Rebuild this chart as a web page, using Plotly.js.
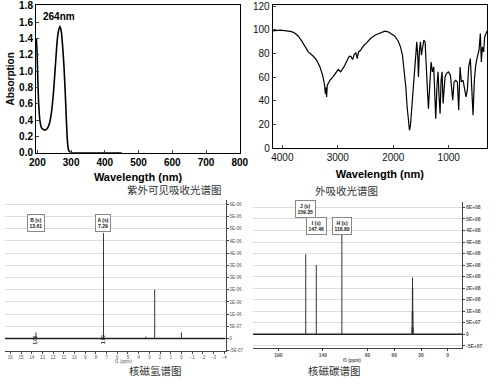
<!DOCTYPE html>
<html><head><meta charset="utf-8">
<script src="https://cdn.plot.ly/plotly-3.0.1.min.js"></script>
<style>html,body{margin:0;padding:0;background:#fff}#c{width:500px;height:390px}</style>
</head><body><div id="c"></div>
<script>
// ---- UV-Vis absorption spectrum ----
const uvWavelength = [197,199,201,204,208,213,218,224,230,236,242,248,254,259,263,267,271,275,279,283,286,289,292,296,300,350,400,450];
const uvAbsorption = [1.40,1.25,0.95,0.60,0.38,0.30,0.285,0.28,0.30,0.36,0.50,0.75,1.10,1.38,1.50,1.55,1.48,1.30,1.05,0.70,0.40,0.15,0.04,0.01,0,0,0,0];
const uvPeakLabel = '264nm';
const uvPeakWavelength = 265;

// ---- IR spectrum ----
const irWavenumber = [4174,4042,3922,3832,3772,3712,3652,3592,3532,3442,3382,3322,3274,3238,3226,3214,3202,3190,3142,3082,3022,2992,2950,2890,2830,2794,2764,2734,2704,2674,2650,2626,2590,2542,2482,2410,2332,2242,2152,2092,2032,1972,1912,1870,1834,1804,1774,1750,1726,1708,1690,1666,1642,1618,1594,1576,1558,1546,1528,1510,1492,1474,1450,1426,1402,1384,1366,1342,1318,1294,1270,1252,1234,1210,1192,1174,1156,1138,1120,1102,1084,1066,1042,1006,970,946,928,904,874,844,820,796,772,742,712,688,664,640,610,586,562,538,514,484,454,430,412,394,370,352,328,310];
const irTransmittance = [99.1,99.7,99.1,98.5,97.1,94.6,90.6,85.6,81.3,77.6,74.3,68.6,61.6,53.1,46,51.1,43.2,53.1,57.3,60.7,64.4,66.4,64.4,68.6,74.3,77.6,77.6,74.8,79.3,80.5,75.7,81.3,82.7,86.1,88.9,92.6,95.4,97.4,98.8,98.3,96.8,94.6,90.6,85.6,78.5,67.2,51.7,34.7,20.6,15,19.2,34.7,54.5,71.4,85.6,89.8,77.1,60.1,82.7,89.8,78.5,85.6,91.2,89.8,71.4,48.8,33.3,60.1,72.8,64.4,68.6,46,24.8,54.5,64.4,43.2,29.1,57.3,64.4,37.6,51.7,60.1,63,64.4,61.6,48.8,40.4,55.9,57.3,55.9,31.9,68.6,55.9,57.3,50.3,43.2,49.1,68.6,75.7,54.5,27.7,57.3,70,77,82.7,96.8,72.8,85.6,81.3,94,98.3,99.1];

// ---- 1H NMR ----
const hShift = [13.61, 7.29, 3.33, 2.50, 0.00];
const hIntensity = [2.5e-7, 4.32e-6, 8e-8, 2.0e-6, 2.5e-7];
const hLabelNames = ['B (s)', 'A (s)'];
const hLabelShifts = [13.61, 7.29];
const hIntegralShifts = [13.61, 7.29];
const hIntegralText = '1.00';
const hTicks = [16,15,14,13,12,11,10,9,8,7,6,5,4,3,2,1,0,-1,-2,-3,-4];
const hYTickVals = [-5e-7,0,5e-7,1e-6,1.5e-6,2e-6,2.5e-6,3e-6,3.5e-6,4e-6,4.5e-6,5e-6,5.5e-6];
const hYTickText = ['-5E-07','0','5E-07','1E-06','2E-06','2E-06','3E-06','3E-06','4E-06','4E-06','5E-06','5E-06','6E-06'];

// ---- 13C NMR ----
const cShift = [159.35, 147.46, 118.80, 40.1, 39.9, 39.7, 39.5, 39.3, 39.1, 38.9];
const cIntensity = [3.47e8, 3.0e8, 4.45e8, 0.3e8, 1.0e8, 2.0e8, 2.46e8, 2.0e8, 1.0e8, 0.3e8];
const cLabelNames = ['J (s)', 'I (s)', 'H (s)'];
const cLabelShifts = [159.35, 147.46, 118.80];
const cTicks = [190, 140, 90, 60, 30, 0];
const cYTickVals = [-5e7,0,5e7,1e8,1.5e8,2e8,2.5e8,3e8,3.5e8,4e8,4.5e8,5e8,5.5e8];
const cYTickText = ['-5E+07','0','5E+07','1E+08','2E+08','2E+08','2E+08','3E+08','4E+08','4E+08','4E+08','5E+08','6E+08'];

// ---- captions ----
const captions = ['紫外可见吸收光谱图', '外吸收光谱图', '核磁氢谱图', '核磁碳谱图'];

// helpers
function sticks(shifts, heights) {
  const x = [], y = [];
  shifts.forEach((s, i) => { x.push(s, s, null); y.push(0, heights[i], null); });
  return {x, y};
}
const hSt = sticks(hShift, hIntensity);
const cSt = sticks(cShift, cIntensity);
const H = 390, W = 500;
const py = v => 1 - v / H, px = v => v / W;

const bold = {family: 'Liberation Sans, Arial, sans-serif', size: 10, color: '#000', weight: 'bold'};
const plain = {family: 'Liberation Sans, Arial, sans-serif', size: 10, color: '#111'};
const tiny = {family: 'Liberation Sans, Arial, sans-serif', size: 4.5, color: '#555'};
const capFont = {family: 'Noto Sans CJK SC', size: 10.5, color: '#333'};

const traces = [
  {x: uvWavelength, y: uvAbsorption, type: 'scatter', mode: 'lines', line: {color: '#000', width: 1.6, shape: 'spline', smoothing: 0.6}, xaxis: 'x', yaxis: 'y', hoverinfo: 'skip'},
  {x: irWavenumber, y: irTransmittance, type: 'scatter', mode: 'lines', line: {color: '#000', width: 1.2}, xaxis: 'x2', yaxis: 'y2', hoverinfo: 'skip'},
  {x: [16.5, -4.14], y: [0, 0], mode: 'lines', line: {color: '#222', width: 1.6}, xaxis: 'x3', yaxis: 'y3', hoverinfo: 'skip'},
  {x: hSt.x, y: hSt.y, mode: 'lines', line: {color: '#333', width: 1}, xaxis: 'x3', yaxis: 'y3', hoverinfo: 'skip'},
  {x: [218.5, -16], y: [0, 0], mode: 'lines', line: {color: '#222', width: 1.6}, xaxis: 'x4', yaxis: 'y4', hoverinfo: 'skip'},
  {x: cSt.x, y: cSt.y, mode: 'lines', line: {color: '#333', width: 1}, xaxis: 'x4', yaxis: 'y4', hoverinfo: 'skip'}
];

const annotations = [
  {text: uvPeakLabel, x: uvPeakWavelength, y: 1.67, xref: 'x', yref: 'y', showarrow: false, font: bold},
  {text: captions[0], x: px(125), y: py(189), xref: 'paper', yref: 'paper', showarrow: false, font: capFont},
  {text: captions[1], x: px(380), y: py(190), xref: 'paper', yref: 'paper', showarrow: false, font: capFont},
  {text: captions[2], x: px(127), y: py(380), xref: 'paper', yref: 'paper', showarrow: false, font: capFont},
  {text: captions[3], x: px(363), y: py(380), xref: 'paper', yref: 'paper', showarrow: false, font: capFont},
  {text: 'f1 (ppm)', x: px(113), y: py(365.5), xref: 'paper', yref: 'paper', showarrow: false, font: tiny},
  {text: 'f1 (ppm)', x: px(363), y: py(365), xref: 'paper', yref: 'paper', showarrow: false, font: {...tiny, weight: 'bold'}}
];
const boxFont = {family: 'Liberation Sans, Arial, sans-serif', size: 5, color: '#111', weight: 'bold'};
hLabelNames.forEach((n, i) => annotations.push({text: n + '<br>' + hLabelShifts[i].toFixed(2), x: hLabelShifts[i], xref: 'x3', y: py(222.5), yref: 'paper', showarrow: false, font: boxFont, bordercolor: '#888', borderwidth: 1, borderpad: 1.5, bgcolor: '#fff'}));
hIntegralShifts.forEach(s => annotations.push({text: hIntegralText, x: s, xref: 'x3', y: py(346), yref: 'paper', showarrow: false, textangle: -90, font: {family: 'Liberation Sans, Arial, sans-serif', size: 4.5, color: '#111', weight: 'bold'}}));
const cLabelY = [py(208.5), py(225.5), py(225.5)];
cLabelNames.forEach((n, i) => annotations.push({text: n + '<br>' + cLabelShifts[i].toFixed(2), x: cLabelShifts[i], xref: 'x4', y: cLabelY[i], yref: 'paper', showarrow: false, font: boxFont, bordercolor: '#888', borderwidth: 1, borderpad: 1.5, bgcolor: '#fff'}));

const nmrX = {showline: true, linecolor: '#444', linewidth: 1, ticks: 'outside', ticklen: 2, tickcolor: '#444', tickfont: tiny, showgrid: false, zeroline: false, fixedrange: true, ticklabelstandoff: 0};
const nmrY = {side: 'right', showline: true, linecolor: '#444', linewidth: 1, ticks: 'outside', ticklen: 2, tickcolor: '#444', tickfont: tiny, showgrid: true, gridcolor: '#dcdcdc', gridwidth: 1, zeroline: false, tickmode: 'array', fixedrange: true};

const layout = {
  width: W, height: H, margin: {l: 0, r: 0, t: 0, b: 0}, paper_bgcolor: '#fff', plot_bgcolor: '#fff', showlegend: false,
  xaxis: {domain: [px(36), px(240)], range: [196, 800.5], dtick: 100, tick0: 0, ticks: 'inside', ticklen: 3, showline: true, mirror: true, linecolor: '#000', linewidth: 1, tickfont: bold, showgrid: false, zeroline: false, title: {text: 'Wavelength (nm)', font: {...bold, size: 11}, standoff: 6}, anchor: 'y'},
  yaxis: {domain: [py(152.7), py(5)], range: [0, 1.81], dtick: 0.2, tick0: 0, tickformat: '.1f', ticks: 'inside', ticklen: 3, showline: true, mirror: true, linecolor: '#000', linewidth: 1, tickfont: bold, showgrid: false, zeroline: false, title: {text: 'Absorption', font: bold, standoff: 2}, anchor: 'x'},
  xaxis2: {domain: [px(272.7), px(487)], range: [4174, 310], dtick: 1000, tick0: 0, ticks: 'inside', ticklen: 3, showline: true, mirror: true, linecolor: '#000', linewidth: 1, tickfont: plain, showgrid: false, zeroline: false, title: {text: 'Wavelength (nm)', font: {...bold, size: 11}, standoff: 8}, anchor: 'y2'},
  yaxis2: {domain: [py(148), py(5)], range: [0, 121], dtick: 20, tick0: 0, ticks: 'inside', ticklen: 3, showline: true, mirror: true, linecolor: '#000', linewidth: 1, tickfont: plain, showgrid: false, zeroline: false, anchor: 'x2'},
  xaxis3: {...nmrX, domain: [px(5), px(225.7)], range: [16.5, -4.14], tickmode: 'array', tickvals: hTicks, anchor: 'y3'},
  yaxis3: {...nmrY, domain: [py(350.7), py(200)], range: [-5e-7, 5.68e-6], tickvals: hYTickVals, ticktext: hYTickText, anchor: 'x3'},
  xaxis4: {...nmrX, domain: [px(253), px(462)], range: [218.5, -16], tickmode: 'array', tickvals: cTicks, tickfont: {...tiny, weight: 'bold', size: 5}, anchor: 'y4'},
  yaxis4: {...nmrY, domain: [py(348.1), py(201.7)], range: [-6e7, 5.75e8], tickvals: cYTickVals, ticktext: cYTickText, tickfont: {...tiny, weight: 'bold', size: 5}, anchor: 'x4'},
  annotations: annotations
};
Plotly.newPlot('c', traces, layout, {staticPlot: true, displayModeBar: false});
</script></body></html>
